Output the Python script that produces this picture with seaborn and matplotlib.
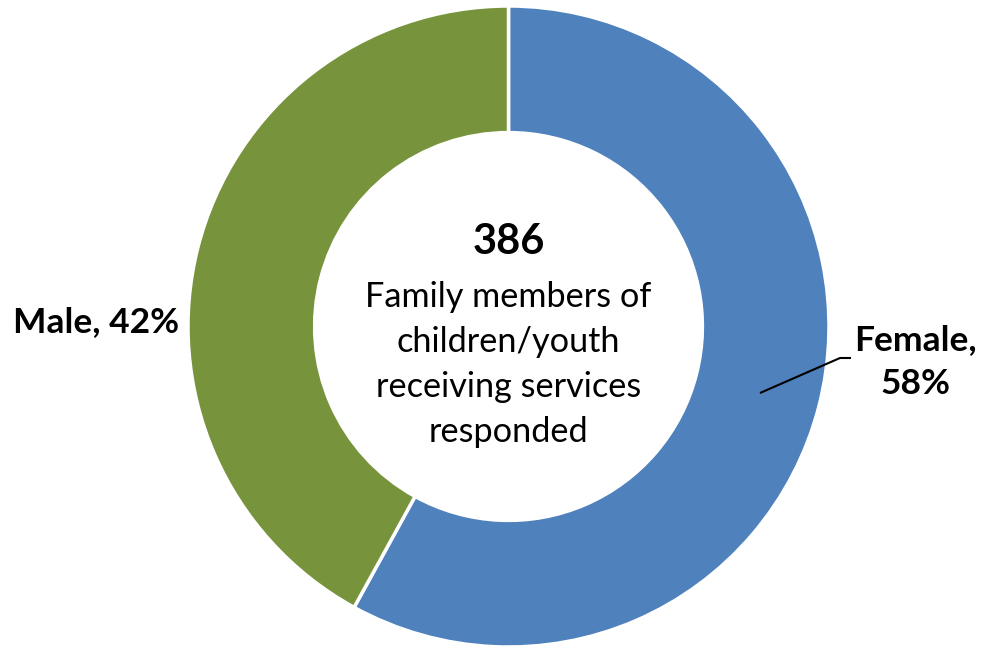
import matplotlib
matplotlib.use("Agg")
import matplotlib.pyplot as plt
import seaborn as sns

categories = ["Female", "Male"]
shares = [58, 42]
colors = ["#4F81BD", "#77933C"]
total_responded = "386"
center_caption = ["Family members of", "children/youth", "receiving services", "responded"]

sns.set_theme(style="white")
plt.rcParams["font.family"] = ["Lato", "DejaVu Sans"]

W, H = 987, 650
fig = plt.figure(figsize=(W / 100, H / 100), dpi=100)
ax = fig.add_axes([0, 0, 1, 1])

cx, cy, R = 508.5, H - 326.5, 320.5
ring = 0.395 * R

ax.pie(
    shares,
    colors=colors,
    startangle=90,
    counterclock=False,
    center=(cx, cy),
    radius=R,
    wedgeprops=dict(width=ring, edgecolor="white", linewidth=2.5),
    frame=True,
)
ax.set_xlim(0, W)
ax.set_ylim(0, H)
ax.set_aspect("equal")
ax.axis("off")

# Center annotation
ax.text(cx, H - 242, total_responded, ha="center", va="center",
        fontsize=30, fontweight="bold", color="black")
for i, line in enumerate(center_caption):
    ax.text(cx, H - (297 + 45 * i), line, ha="center", va="center",
            fontsize=24.7, color="black")

# Category labels
ax.text(96, H - 322, f"{categories[1]}, {shares[1]}%", ha="center", va="center",
        fontsize=25.5, fontweight="bold", color="black")
ax.text(915, H - 340, f"{categories[0]},", ha="center", va="center",
        fontsize=25.5, fontweight="bold", color="black")
ax.text(915, H - 384, f"{shares[0]}%", ha="center", va="center",
        fontsize=25.5, fontweight="bold", color="black")

# Leader line for the Female label
ax.plot([760, 840, 851], [H - 393, H - 358, H - 358], color="black", lw=1.5,
        solid_capstyle="butt")

fig.savefig("out.png", dpi=100, facecolor="white")
